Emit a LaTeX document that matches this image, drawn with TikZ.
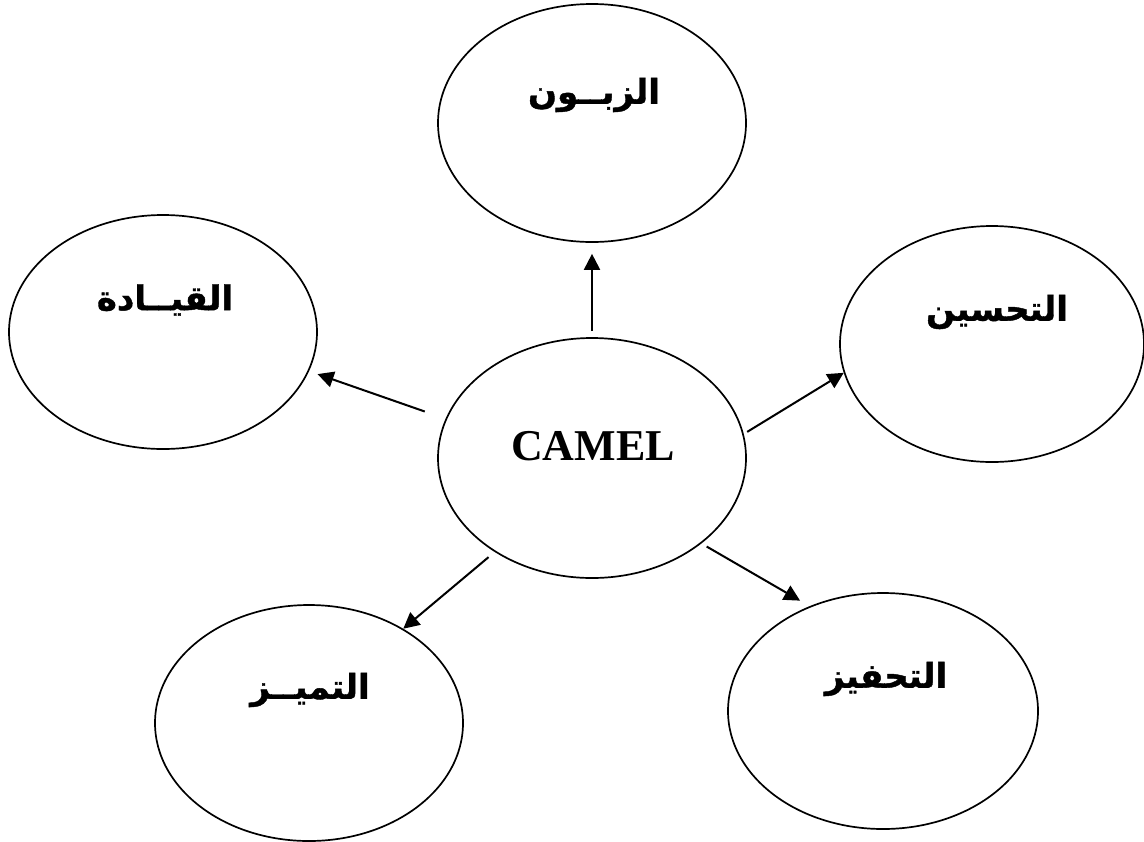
\documentclass[tikz,border=0pt]{standalone}
\usepackage{fontspec}
\usetikzlibrary{shapes.geometric,arrows.meta}
\TeXXeTstate=1
\newfontfamily\arabicfont[Script=Arabic,BoldFeatures={FakeBold=1.2}]{DejaVu Sans}
\newfontfamily\camelfont{Liberation Serif}
\begin{document}
\begin{tikzpicture}[x=0.5pt,y=-0.5pt,
  bubble/.style={draw,line width=0.85pt,ellipse,minimum width=154pt,minimum height=118pt,inner sep=0pt},
  artext/.style={font=\arabicfont\bfseries\fontsize{17}{19}\selectfont,inner sep=0pt},
  lattext/.style={font=\camelfont\bfseries\fontsize{22}{24}\selectfont,inner sep=0pt},
  arr/.style={line width=1pt,-{Triangle[length=8pt,width=8pt]}}]
\useasboundingbox (0,0) rectangle (1144,841);

% the six ellipses
\node[bubble,minimum height=120pt] (cam) at (592,458) {};
\node[bubble,minimum height=119pt] (cust) at (592,123) {};
\node[bubble,minimum height=117pt] (lead) at (163,332) {};
\node[bubble,minimum width=152pt] (impr) at (992,344) {};
\node[bubble] (excl) at (309,723) {};
\node[bubble,minimum width=155pt] (motv) at (883,711) {};

% labels
\node[lattext] (camT) at ([xshift=0.5pt,yshift=6pt]cam.center) {CAMEL};
\node[artext] (custT) at ([xshift=1pt,yshift=14pt]cust.center) {\beginR الزبــون\endR};
\node[artext] (leadT) at ([xshift=1pt,yshift=16pt]lead.center) {\beginR القيــادة\endR};
\node[artext] (imprT) at ([xshift=2.5pt,yshift=16pt]impr.center) {\beginR التحسين\endR};
\node[artext] (exclT) at ([xshift=0.5pt,yshift=16.5pt]excl.center) {\beginR التميــز\endR};
\node[artext] (motvT) at ([xshift=1.5pt,yshift=16pt]motv.center) {\beginR التحفيز\endR};

% connectors from the centre
\draw[arr,shorten <=3pt,shorten >=5.5pt] (cam.90) -- (cust.-90);
\draw[arr,shorten <=11pt,shorten >=4.5pt] (cam.165) -- (lead.-15);
\draw[arr,shorten <=2pt] (cam.9) -- (impr.191);
\draw[arr,shorten <=4pt] (cam.224) -- (excl.45);
\draw[arr,shorten <=3pt,shorten >=5.5pt] (cam.-38) -- (motv.125);
\end{tikzpicture}
\end{document}
